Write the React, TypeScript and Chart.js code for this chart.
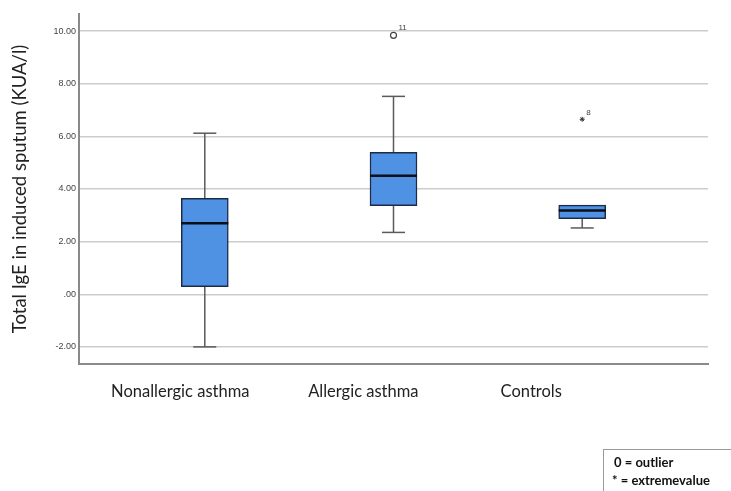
import React, { useEffect, useRef } from "react";
import { Chart, registerables } from "chart.js";

Chart.register(...registerables);

// Group names along the horizontal axis
const groups = ["Nonallergic asthma", "Allergic asthma", "Controls"];
// Box plot summary values per group (Total IgE, KUA/l)
const whiskerLow = [-2.0, 2.35, 2.52];
const q1 = [0.29, 3.37, 2.87];
const median = [2.7, 4.5, 3.18];
const q3 = [3.65, 5.39, 3.39];
const whiskerHigh = [6.12, 7.52, 3.39];
// Outliers (circles) and extreme values (asterisks) with their case numbers
const outlierGroup = [2];
const outlierValue = [9.84];
const outlierCase = ["11"];
const extremeGroup = [3];
const extremeValue = [6.65];
const extremeCase = ["8"];
// Value-axis ticks
const yTicks = [-2, 0, 2, 4, 6, 8, 10];
// Where each group name sits along the axis (axis units)
const labelPositions = [0.87, 1.84, 2.73];

const boxPlugin = {
  id: "boxWhiskers",
  beforeDatasetsDraw(chart: any) {
    const { ctx, scales } = chart;
    const x = scales.x;
    const y = scales.y;
    ctx.save();
    ctx.strokeStyle = "#5a5a5a";
    ctx.lineWidth = 1.5;
    groups.forEach((_, i) => {
      const cx = x.getPixelForValue(i + 1);
      const half = 11.5;
      const seg = (a: number, b: number) => {
        if (a === b) return;
        ctx.beginPath();
        ctx.moveTo(cx, y.getPixelForValue(a));
        ctx.lineTo(cx, y.getPixelForValue(b));
        ctx.stroke();
        const yb = y.getPixelForValue(b);
        ctx.beginPath();
        ctx.moveTo(cx - half, yb);
        ctx.lineTo(cx + half, yb);
        ctx.stroke();
      };
      seg(q1[i], whiskerLow[i]);
      seg(q3[i], whiskerHigh[i]);
    });
    ctx.restore();
  },
  afterDatasetsDraw(chart: any) {
    const { ctx, scales } = chart;
    const x = scales.x;
    const y = scales.y;
    ctx.save();
    ctx.strokeStyle = "#0a0f1a";
    ctx.lineWidth = 2.5;
    groups.forEach((_, i) => {
      const cx = x.getPixelForValue(i + 1);
      const ym = y.getPixelForValue(median[i]);
      ctx.beginPath();
      ctx.moveTo(cx - 23.5, ym);
      ctx.lineTo(cx + 23.5, ym);
      ctx.stroke();
    });
    ctx.fillStyle = "#444";
    ctx.font = "8px 'Liberation Sans', Arial, sans-serif";
    ctx.textAlign = "left";
    ctx.textBaseline = "middle";
    outlierGroup.forEach((g, i) => {
      ctx.fillText(outlierCase[i], x.getPixelForValue(g) + 5, y.getPixelForValue(outlierValue[i]) - 8);
    });
    extremeGroup.forEach((g, i) => {
      ctx.fillText(extremeCase[i], x.getPixelForValue(g) + 4, y.getPixelForValue(extremeValue[i]) - 6);
    });
    ctx.restore();
  },
};

export default function App() {
  const ref = useRef<HTMLCanvasElement | null>(null);

  useEffect(() => {
    if (!ref.current) return;
    const chart = new Chart(ref.current, {
      type: "bar",
      data: {
        datasets: [
          {
            type: "bar",
            data: groups.map((_, i) => ({ x: i + 1, y: [q1[i], q3[i]] })) as any,
            backgroundColor: "#4f91e3",
            borderColor: "#1c2b48",
            borderWidth: 1.5,
            borderSkipped: false,
            barThickness: 47,
          },
          {
            type: "scatter",
            data: outlierGroup.map((g, i) => ({ x: g, y: outlierValue[i] })),
            pointStyle: "circle",
            pointRadius: 3,
            borderColor: "#444",
            backgroundColor: "#fff",
            borderWidth: 1.2,
          },
          {
            type: "scatter",
            data: extremeGroup.map((g, i) => ({ x: g, y: extremeValue[i] })),
            pointStyle: "star",
            pointRadius: 2.5,
            borderColor: "#333",
            borderWidth: 1,
          },
        ] as any,
      },
      options: {
        responsive: false,
        animation: false,
        events: [],
        layout: { padding: { left: 0, right: 23, top: 14, bottom: 0 } },
        plugins: { legend: { display: false }, tooltip: { enabled: false } },
        scales: {
          x: {
            type: "linear",
            offset: false,
            min: 1 / 3,
            max: 3 + 2 / 3,
            afterFit: (s: any) => {
              s.height = 127;
            },
            afterBuildTicks: (s: any) => {
              s.ticks = labelPositions.map((v) => ({ value: v }));
            },
            grid: { display: false, drawTicks: false },
            border: { display: true, color: "#8a8a8a", width: 2 },
            ticks: {
              padding: 18,
              color: "#222",
              font: { family: "Lato, 'Open Sans', sans-serif", size: 16.5 },
              callback: (_v: any, i: number) => groups[i],
            },
          },
          y: {
            min: -2.65,
            max: 10.65,
            afterFit: (s: any) => {
              s.width = 79;
            },
            afterBuildTicks: (s: any) => {
              s.ticks = yTicks.map((v) => ({ value: v }));
            },
            grid: { color: "#cccccc", lineWidth: 1.5, drawTicks: false },
            border: { display: true, color: "#8a8a8a", width: 2 },
            ticks: {
              padding: 3,
              color: "#444",
              font: { family: "'Liberation Sans', Arial, sans-serif", size: 9 },
              callback: (v: any) => (v === 0 ? ".00" : Number(v).toFixed(2)),
            },
            title: {
              display: true,
              text: "Total IgE in induced sputum (KUA/l)",
              color: "#222",
              font: { family: "Lato, 'Open Sans', sans-serif", size: 18.5 },
              padding: { top: 9, bottom: 0 },
            },
          },
        },
      },
      plugins: [boxPlugin],
    });
    return () => chart.destroy();
  }, []);

  return (
    <div
      style={{
        position: "fixed",
        left: 0,
        top: 0,
        width: 731,
        height: 491,
        overflow: "hidden",
        background: "#fff",
      }}
    >
      <canvas ref={ref} width={731} height={491} style={{ width: 731, height: 491, display: "block" }} />
      <div
        style={{
          position: "absolute",
          left: 603,
          top: 449,
          width: 150,
          height: 60,
          border: "1px solid #9a9a9a",
          boxSizing: "border-box",
          padding: "3px 0 0 10px",
          fontFamily: "Lato, 'Open Sans', sans-serif",
          fontWeight: 700,
          fontSize: 13,
          lineHeight: "18px",
          color: "#111",
          whiteSpace: "nowrap",
        }}
      >
        <div>0 = outlier</div>
        <div style={{ marginLeft: -2 }}>* = extremevalue</div>
      </div>
    </div>
  );
}
